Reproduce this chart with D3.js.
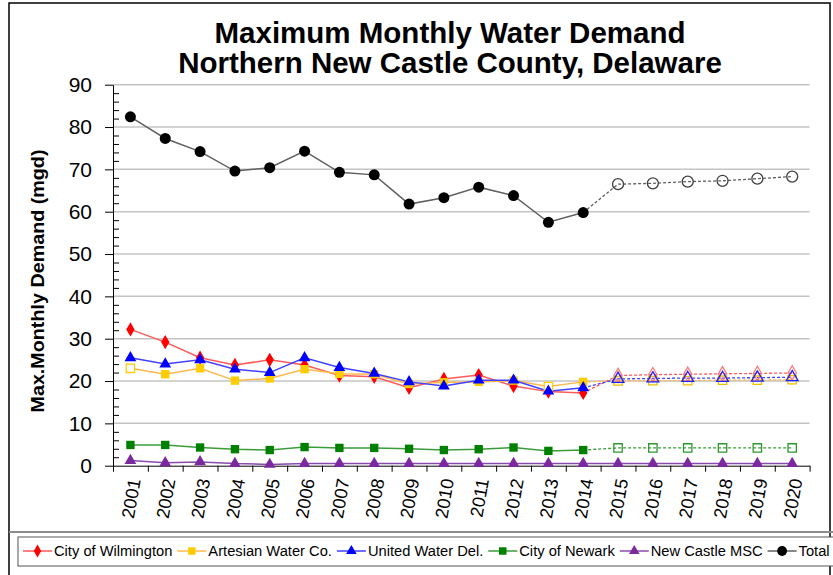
<!DOCTYPE html>
<meta charset="utf-8">

<style>
body { margin: 0; background: #fff; }
svg text { font-family: "Liberation Sans", Arial, sans-serif; fill: #000; }
.grid line { stroke: #c4c4c4; stroke-width: 1.5px; }
.axis path, .axis line { stroke: #000; }
.legend text { font-size: 14.7px; }
</style>

<body>
<svg width=833 height=575></svg>
</body>

<script src="https://d3js.org/d3.v7.min.js"></script>
<script>
// values (mgd), 2015-2020 are the projected years
const years = ["2001","2002","2003","2004","2005","2006","2007","2008","2009","2010",
               "2011","2012","2013","2014","2015","2016","2017","2018","2019","2020"]
const wilmington = [32.2,29.2,25.5,23.8,25.0,23.8,21.3,21.0,18.4,20.5,21.4,18.8,17.5,17.2,21.3,21.5,21.6,21.7,21.8,21.9]
const artesian   = [23.0,21.6,23.0,20.1,20.6,22.8,21.7,21.6,19.3,19.7,19.8,20.1,18.7,19.8,20.0,20.1,20.1,20.2,20.2,20.3]
const unitedWater= [25.5,24.0,25.0,22.8,22.0,25.5,23.2,21.8,19.8,18.8,20.2,20.2,17.6,18.4,20.5,20.6,20.7,20.7,20.8,20.9]
const newark     = [4.9,4.9,4.3,3.9,3.7,4.4,4.2,4.2,4.0,3.7,3.9,4.3,3.5,3.7,4.2,4.2,4.2,4.2,4.2,4.2]
const newCastle  = [1.2,0.7,0.9,0.5,0.3,0.5,0.5,0.5,0.5,0.5,0.5,0.5,0.5,0.5,0.5,0.5,0.5,0.5,0.5,0.5]
const total      = [82.4,77.3,74.2,69.6,70.4,74.3,69.3,68.7,61.8,63.3,65.8,63.8,57.5,59.8,66.5,66.7,67.1,67.3,67.8,68.3]
const lastActual = "2014"
const yTicks = [0,10,20,30,40,50,60,70,80,90]

const series = [
  {name: "City of Wilmington", values: wilmington, marker: d3.symbolDiamond, size: 60, fill: "#ff0000", line: "#ff5a5a", open: "#ff7a7a", dashed: true, hollow: []},
  {name: "Artesian Water Co.", values: artesian, marker: d3.symbolSquare, size: 70, fill: "#ffcc00", line: "#ffb84d", open: "#f0c000", dashed: true, hollow: ["2001","2013"]},
  {name: "United Water Del.", values: unitedWater, marker: d3.symbolTriangle, size: 60, fill: "#0000ff", line: "#4040ff", open: "#2020ff", dashed: true, hollow: []},
  {name: "City of Newark", values: newark, marker: d3.symbolSquare, size: 70, fill: "#008000", line: "#3c9c3c", open: "#2f962f", dashed: true, hollow: []},
  {name: "New Castle MSC", values: newCastle, marker: d3.symbolTriangle, size: 60, fill: "#7a2a9e", line: "#8a4aae", open: null, dashed: false, hollow: []},
  {name: "Total", values: total, marker: d3.symbolCircle, size: 95, fill: "#000", line: "#606060", open: "#404040", dashed: true, hollow: []}
]

const root = d3.select("svg")

// outer frame
root.append("rect")
  .attr("x", 9).attr("y", 3).attr("width", 821).attr("height", 640)
  .attr("fill", "none").attr("stroke", "#000").attr("stroke-width", 1.5)
root.append("line")
  .attr("x1", 9).attr("x2", 833).attr("y1", 532).attr("y2", 532)
  .attr("stroke", "#8c8c8c").attr("stroke-width", 2)

const x = d3.scaleBand().domain(years).range([113, 809.6])
const xc = (d) => x(d) + x.bandwidth() / 2
const y = d3.scaleLinear().domain([0, 90]).range([465.7, 84.7])

// title
root.append("text")
  .attr("x", 450).attr("y", 43)
  .attr("text-anchor", "middle")
  .style("font-size", "29.5px").style("font-weight", "bold")
  .text("Maximum Monthly Water Demand")
root.append("text")
  .attr("x", 450).attr("y", 73)
  .attr("text-anchor", "middle")
  .style("font-size", "29.5px").style("font-weight", "bold")
  .text("Northern New Castle County, Delaware")

// gridlines
root.append("g")
  .attr("class", "grid")
  .selectAll("line")
  .data(yTicks.filter((d) => d > 0))
  .enter()
  .append("line")
    .attr("x1", x.range()[0]).attr("x2", x.range()[1])
    .attr("y1", (d) => y(d)).attr("y2", (d) => y(d))

// y axis: majors outside, minors inside
const yAxis = root.append("g")
  .attr("class", "axis")
  .attr("transform", `translate(${x.range()[0]},0)`)
  .call(d3.axisLeft(y).tickValues(yTicks).tickSize(8).tickPadding(13).tickSizeOuter(0))
yAxis.selectAll("text").style("font-size", "21px")
root.append("g")
  .attr("class", "axis")
  .attr("transform", `translate(${x.range()[0]},0)`)
  .call(d3.axisRight(y).tickValues(d3.range(0, 91, 2).filter((d) => d % 10 != 0)).tickSize(6).tickFormat("").tickSizeOuter(0))
  .select(".domain").remove()

// x axis: ticks at category edges
const xEdge = d3.scaleLinear().domain([0, years.length]).range(x.range())
root.append("g")
  .attr("class", "axis")
  .attr("transform", `translate(0,${y(0)})`)
  .call(d3.axisBottom(xEdge).ticks(years.length).tickSize(6).tickFormat("").tickSizeOuter(0))
const xAxis = root.append("g")
  .attr("transform", `translate(0,${y(0)})`)
  .call(d3.axisBottom(x).tickSize(0).tickPadding(0))
xAxis.select(".domain").remove()
xAxis.selectAll("text")
  .style("font-size", "18px")
  .attr("text-anchor", "end")
  .attr("dy", "0.35em")
  .attr("y", 0)
  .attr("transform", "translate(4,13) rotate(-80)")

// y axis title
root.append("text")
  .attr("transform", "translate(44,281) rotate(-90)")
  .attr("text-anchor", "middle")
  .style("font-size", "18px").style("font-weight", "bold")
  .attr("textLength", 263).attr("lengthAdjust", "spacingAndGlyphs")
  .text("Max.Monthly Demand (mgd)")

// lines and markers
const ci = years.indexOf(lastActual)
const plot = root.append("g")
series.forEach((s) => {
  const pts = years.map((yr, i) => ({year: yr, v: s.values[i], i: i}))
  const line = d3.line().x((d) => xc(d.year)).y((d) => y(d.v))
  const actual = s.dashed ? pts.slice(0, ci + 1) : pts
  plot.append("path")
    .datum(actual)
    .attr("d", line)
    .attr("fill", "none").attr("stroke", s.line).attr("stroke-width", 1.5)
  if (s.dashed) {
    plot.append("path")
      .datum(pts.slice(ci))
      .attr("d", line)
      .attr("fill", "none").attr("stroke", s.line).attr("stroke-width", 1.3)
      .attr("stroke-dasharray", "3,2")
  }
})
series.forEach((s) => {
  const pts = years.map((yr, i) => ({year: yr, v: s.values[i], i: i}))
  plot.append("g")
    .selectAll("path")
    .data(pts)
    .enter()
    .append("path")
      .attr("transform", (d) => `translate(${xc(d.year)},${y(d.v)})`)
      .attr("d", (d) => d3.symbol().type(s.marker).size(s.size)())
      .attr("fill", (d) => {
        if (s.dashed && d.i > ci) return "none"
        if (s.hollow.includes(d.year)) return "#fff"
        return s.fill
      })
      .attr("stroke", (d) => {
        if (s.dashed && d.i > ci) return s.open
        if (s.hollow.includes(d.year)) return s.fill
        return "none"
      })
      .attr("stroke-width", 1.3)
})

// legend
const legend = root.append("g").attr("class", "legend")
legend.append("rect")
  .attr("x", 18).attr("y", 537).attr("width", 830).attr("height", 29)
  .attr("fill", "#fff").attr("stroke", "#555").attr("stroke-width", 1)
let lx = 23
series.forEach((s) => {
  const item = legend.append("g")
  item.append("line")
    .attr("x1", lx).attr("x2", lx + 29).attr("y1", 551).attr("y2", 551)
    .attr("stroke", s.line).attr("stroke-width", 1.5)
  item.append("path")
    .attr("transform", `translate(${lx + 14.5},551)`)
    .attr("d", d3.symbol().type(s.marker).size(s.size * 0.8)())
    .attr("fill", s.fill)
  const t = item.append("text")
    .attr("x", lx + 31).attr("y", 556)
    .text(s.name)
  lx += 31 + t.node().getComputedTextLength() + 5
})
</script>
